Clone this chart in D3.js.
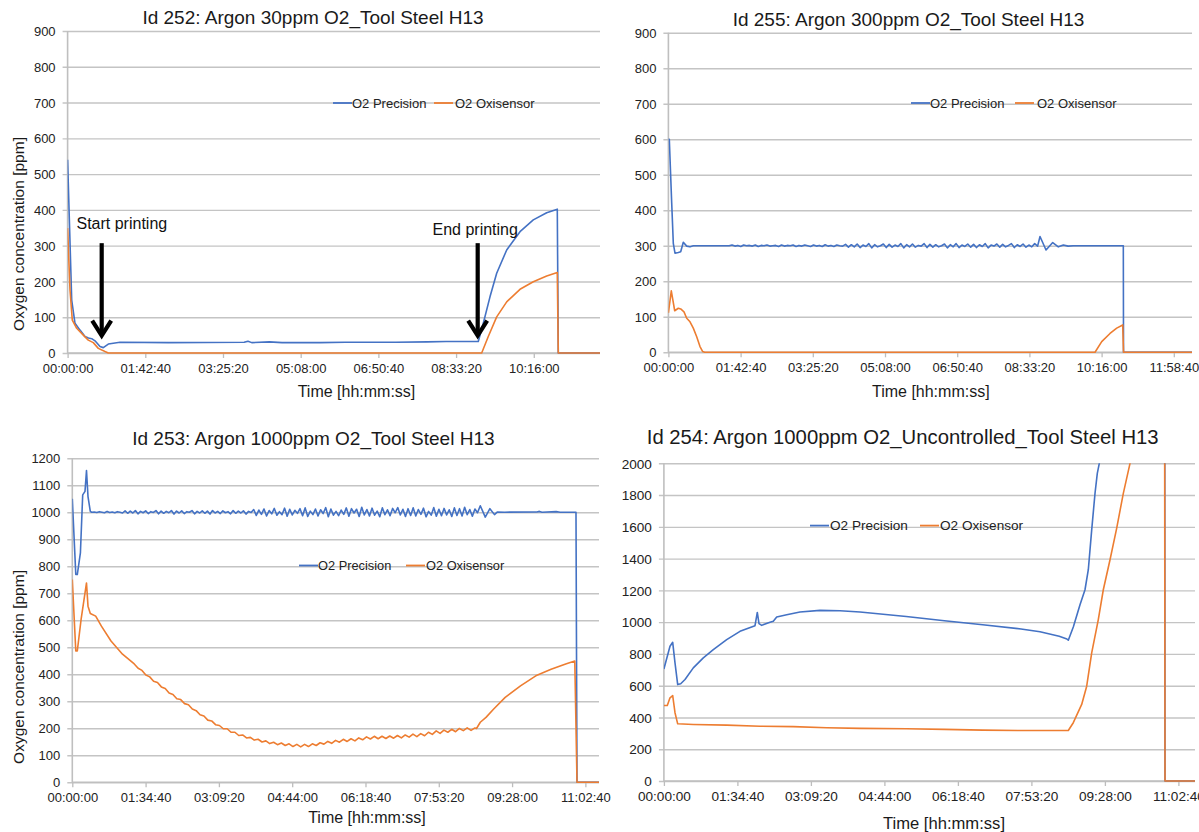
<!DOCTYPE html>
<html>
<head>
<meta charset="utf-8">
<script src="https://cdn.jsdelivr.net/npm/d3@7"></script>
<style>
  body { margin: 0; background: #fff; }
  svg { display: block; font-family: "Liberation Sans", Arial, sans-serif; }
</style>
</head>
<body>
<svg id="chart" width="1199" height="832"></svg>
<script>
const seriesNames = ['O2 Precision', 'O2 Oxisensor'];
const yTitle = 'Oxygen concentration [ppm]';
const xTitle = 'Time [hh:mm:ss]';

// ---- Id 252 ----
const p252Title = 'Id 252: Argon 30ppm O2_Tool Steel H13';
const p252XTicks = ['00:00:00', '01:42:40', '03:25:20', '05:08:00', '06:50:40', '08:33:20', '10:16:00'];
const p252YTicks = [0, 100, 200, 300, 400, 500, 600, 700, 800, 900];
const p252Precision = [[0, 540], [325, 148], [587, 83], [983, 64], [1379, 46], [1650, 42], [1911, 40], [2172, 34],
  [2569, 18], [2830, 15], [3227, 25], [4154, 30], [8000, 29], [14000, 30], [14300, 33], [14600, 29], [16000, 31],
  [17000, 29], [20000, 29], [22000, 30], [26000, 30], [28500, 31], [30000, 32], [32560, 32], [32957, 83],
  [33488, 157], [34019, 223], [34812, 288], [35867, 339], [36921, 372], [37983, 392], [38824, 402], [38903, 0], [42210, 0]];
const p252Oxisensor = [[0, 349], [190, 176], [373, 92], [721, 69], [1245, 50], [1641, 36], [2037, 29], [2434, 13],
  [2965, 4], [3227, 0], [32830, 0], [33353, 46], [34019, 101], [34812, 143], [35867, 178], [36921, 199],
  [37983, 215], [38824, 225], [38903, 0], [42210, 0]];
const p252Notes = [
  { label: 'Start printing', t: 2703, top: 307, tip: 46, textT: 705, textV: 346 },
  { label: 'End printing', t: 32513, top: 307, tip: 46, textT: 28930, textV: 330 }
];

// ---- Id 255 ----
const p255Title = 'Id 255: Argon 300ppm O2_Tool Steel H13';
const p255XTicks = ['00:00:00', '01:42:40', '03:25:20', '05:08:00', '06:50:40', '08:33:20', '10:16:00', '11:58:40'];
const p255YTicks = [0, 100, 200, 300, 400, 500, 600, 700, 800, 900];
const p255PrecisionHead = [[0, 600], [77, 600], [282, 420], [418, 307], [563, 279], [845, 281], [1049, 283],
  [1271, 310], [1561, 299], [1843, 297], [2124, 300]];
const p255PrecisionRippleSpan = [2200, 31500];
const p255PrecisionRipple = [300, 300, 300, 300, 300, 300, 300, 300, 300, 300, 300, 300, 300,
  302, 299, 301, 298, 302, 300, 301, 299, 302, 298, 301, 300, 302, 299, 300, 301, 298, 302, 299, 301,
  300, 302, 298, 301, 299, 302, 300, 298, 302, 299, 301, 298, 303, 299, 301, 298, 302, 300, 299,
  304, 296, 303, 297, 305, 295, 302, 298, 306, 294, 303, 297, 300, 305, 295, 304, 296, 302, 298, 306,
  294, 303, 297, 305, 296, 301, 299, 306, 295, 304, 296, 303, 297, 300, 305, 294, 303, 297, 306, 295,
  302, 298, 305, 296, 304, 295, 303, 298, 306, 294, 302, 299, 305, 296, 304, 297, 301, 306, 295, 303,
  298, 305, 296, 302, 297, 306, 299];
const p255PrecisionTail = [[31705, 326], [32217, 288], [32789, 309], [33267, 297], [33700, 302], [34100, 299],
  [34546, 300], [38812, 300], [38830, 0], [44672, 0]];
const p255Oxisensor = [[0, 111], [247, 173], [538, 117], [845, 124], [1049, 122], [1331, 114], [1561, 96],
  [1843, 86], [2124, 68], [2415, 44], [2696, 16], [2927, 2], [3100, 0], [36398, 0], [36968, 30], [37677, 53],
  [38249, 68], [38761, 77], [38830, 0], [44672, 0]];

// ---- Id 253 ----
const p253Title = 'Id 253: Argon 1000ppm O2_Tool Steel H13';
const p253XTicks = ['00:00:00', '01:34:40', '03:09:20', '04:44:00', '06:18:40', '07:53:20', '09:28:00', '11:02:40'];
const p253YTicks = [0, 100, 200, 300, 400, 500, 600, 700, 800, 900, 1000, 1100, 1200];
const p253PrecisionHead = [[0, 1050], [271, 769], [387, 769], [628, 849], [806, 1064], [984, 1077], [1100, 1154],
  [1217, 1058], [1395, 1003]];
const p253PrecisionRippleSpan = [1500, 31400];
const p253PrecisionRipple = [1000, 1001, 999, 1002, 1000, 998, 1003, 999, 1001, 998, 1002, 1000, 997,
  1005, 996, 1004, 997, 1006, 994, 1003, 998, 1005, 995, 1002, 999, 1006, 994, 1004, 996, 1003, 998, 1006, 993,
  1004, 997, 1005, 995, 1002, 1000, 1006, 994, 1003, 997, 1005, 996, 1004, 993, 1006, 997, 1003, 995, 1005, 998,
  1002, 994, 1006, 996, 1004, 997, 1005, 993, 1003, 999,
  1010, 988, 1008, 992, 1012, 986, 1006, 994, 1014, 989, 1002, 991, 1015, 985, 1011, 990, 1007, 996, 1013, 987,
  1016, 984, 1004, 991, 1012, 986, 1009, 995, 1017, 983, 1012, 989, 1003, 987, 1008, 992, 1016, 985, 1013, 997,
  1011, 984, 1018, 990, 1010, 986, 1015, 989, 1004, 983, 1016, 991, 1009, 987, 1014, 998, 1017, 990, 1011, 984,
  1013, 988, 1016, 986, 1010, 992, 1015, 983, 1003, 989, 1017, 985, 1011, 987, 1014, 990, 1009, 984, 1016, 988,
  1013, 986, 1018, 991, 1010, 985, 1012, 998];
const p253PrecisionTail = [[31616, 1024], [32003, 982], [32360, 1013], [32716, 991], [32949, 1001], [33500, 1000],
  [36000, 1001], [36200, 1003], [36400, 1000], [37500, 1002], [37800, 1000], [39032, 1000], [39110, 0], [40815, 0]];
const p253OxisensorHead = [[0, 751], [271, 486], [387, 486], [682, 603], [1100, 738], [1217, 652], [1395, 625],
  [1813, 615], [2255, 578], [2999, 523], [3890, 474]];
const p253OxisensorNoiseSpan = [4800, 31200];
const p253OxisensorNoise = [438, 422, 414, 397, 390, 374, 369, 353, 347, 330, 325, 309, 306, 291, 287, 271, 265,
  250, 245, 230, 227, 213, 210, 198, 198, 185, 185, 173, 175, 164, 166, 156, 159, 149, 153, 143, 148, 139, 145,
  136, 142, 132, 140, 131, 140, 132, 142, 136, 146, 141, 151, 144, 155, 148, 159, 151, 161, 153, 164, 157, 168,
  160, 170, 161, 170, 162, 171, 163, 173, 164, 175, 167, 178, 169, 180, 172, 185, 177, 190, 181, 193, 185, 196,
  187, 199, 191, 201, 192, 201];
const p253OxisensorTail = [[31322, 199], [31616, 222], [32058, 240], [32655, 271], [33546, 314], [34731, 357],
  [35917, 394], [37103, 418], [38288, 439], [38939, 449], [39110, 0], [40815, 0]];

// ---- Id 254 ----
const p254Title = 'Id 254: Argon 1000ppm O2_Uncontrolled_Tool Steel H13';
const p254XTicks = ['00:00:00', '01:34:40', '03:09:20', '04:44:00', '06:18:40', '07:53:20', '09:28:00', '11:02:40'];
const p254YTicks = [0, 200, 400, 600, 800, 1000, 1200, 1400, 1600, 1800, 2000];
const p254Precision = [[0, 705], [471, 848], [680, 873], [858, 744], [1066, 607], [1298, 612], [1631, 639],
  [2272, 712], [3045, 775], [3818, 827], [4853, 890], [5881, 942], [7040, 978], [7218, 1061], [7349, 991],
  [7558, 980], [8199, 999], [8454, 1005], [8717, 1033], [9490, 1047], [10518, 1064], [12064, 1074], [13609, 1072],
  [15155, 1064], [18725, 1036], [21677, 1009], [24637, 984], [27597, 957], [29065, 940], [30549, 911],
  [31144, 894], [31252, 886], [31638, 969], [32156, 1110], [32542, 1204], [32798, 1330], [33060, 1581],
  [33316, 1811], [33493, 1937], [33648, 2000], [33857, 2150], [34476, 2600], [38686, 4500], [38725, 0], [41043, 0]];
const p254Oxisensor = [[0, 475], [263, 475], [471, 524], [680, 538], [858, 430], [1066, 360], [2272, 356],
  [4853, 352], [7427, 345], [10000, 342], [12581, 335], [15155, 331], [18725, 329], [21677, 325], [24637, 320],
  [27597, 318], [31252, 318], [31638, 367], [32287, 482], [32673, 597], [33060, 807], [33570, 1016],
  [33957, 1204], [34476, 1393], [34993, 1592], [35503, 1811], [36021, 2000], [36793, 2400], [38686, 3100],
  [38725, 0], [41043, 0]];

const toSec = s => s.split(':').reduce((a, b) => a * 60 + (+b), 0);

function withRipple(head, span, values, tail) {
  const step = (span[1] - span[0]) / (values.length - 1);
  return head.concat(values.map((v, i) => [span[0] + i * step, v]), tail);
}

const colors = ['#4472C4', '#ED7D31'];
const svg = d3.select('#chart');

const panels = [
  {
    id: 'p252', title: p252Title, xTicks: p252XTicks, yTicks: p252YTicks,
    series: [p252Precision, p252Oxisensor], notes: p252Notes,
    left: 67.6, right: 600, top: 31, bottom: 353, xMax: 42210, yMax: 900,
    titlePos: [313, 23.5], titleSize: 19, tickSize: 13, axisSize: 16,
    xTitlePos: [356.5, 397], yTitlePos: [24, 234],
    legend: [333, 103, 19, 101, 122], legendSize: 13
  },
  {
    id: 'p255', title: p255Title, xTicks: p255XTicks, yTicks: p255YTicks,
    series: [withRipple(p255PrecisionHead, p255PrecisionRippleSpan, p255PrecisionRipple, p255PrecisionTail), p255Oxisensor],
    left: 668.4, right: 1192, top: 32.7, bottom: 352.3, xMax: 44672, yMax: 900,
    titlePos: [908.5, 25.7], titleSize: 19, tickSize: 13, axisSize: 16,
    xTitlePos: [930.8, 397],
    legend: [911, 103, 19, 104, 126], legendSize: 13
  },
  {
    id: 'p253', title: p253Title, xTicks: p253XTicks, yTicks: p253YTicks,
    series: [withRipple(p253PrecisionHead, p253PrecisionRippleSpan, p253PrecisionRipple, p253PrecisionTail),
      withRipple(p253OxisensorHead, p253OxisensorNoiseSpan, p253OxisensorNoise, p253OxisensorTail)],
    left: 72.3, right: 599, top: 458.2, bottom: 782.2, xMax: 40815, yMax: 1200,
    titlePos: [313.4, 445], titleSize: 19, tickSize: 13, axisSize: 16,
    xTitlePos: [367, 823], yTitlePos: [24, 667],
    legend: [299, 565.5, 19, 107, 127], legendSize: 12.8
  },
  {
    id: 'p254', title: p254Title, xTicks: p254XTicks, yTicks: p254YTicks,
    series: [p254Precision, p254Oxisensor],
    left: 663.9, right: 1195, top: 463.3, bottom: 781, xMax: 41043, yMax: 2000,
    titlePos: [902.7, 444], titleSize: 20.3, tickSize: 13.6, axisSize: 16.6,
    xTitlePos: [944, 829],
    legend: [810, 525.6, 20, 110, 130], legendSize: 13.6
  }
];

panels.forEach(drawPanel);

function drawPanel(cfg) {
  const g = svg.append('g').attr('class', cfg.id);

  const x = d3.scaleLinear().domain([0, cfg.xMax]).range([cfg.left, cfg.right]);
  const y = d3.scaleLinear().domain([0, cfg.yMax]).range([cfg.bottom, cfg.top]);

  // gridlines and y labels
  g.append('g')
    .attr('transform', 'translate(' + (cfg.left - 5) + ',0)')
    .call(d3.axisLeft(y).tickValues(cfg.yTicks).tickFormat(d3.format('d'))
      .tickSize(-(cfg.right - cfg.left + 5)).tickPadding(7))
    .call(a => a.attr('font-size', null).attr('font-family', null))
    .call(a => a.select('.domain').remove())
    .call(a => a.selectAll('line').attr('stroke', '#c4c4c4').attr('stroke-width', 1.4))
    .call(a => a.selectAll('text').attr('fill', '#222').attr('dy', '0.35em')
      .style('font-size', cfg.tickSize + 'px'));

  // x axis ticks and labels
  const xt = cfg.xTicks.map(toSec);
  g.append('g')
    .attr('transform', 'translate(0,' + cfg.bottom + ')')
    .call(d3.axisBottom(x).tickValues(xt).tickFormat((d, i) => cfg.xTicks[i]).tickSizeInner(5).tickSizeOuter(0))
    .call(a => a.attr('font-size', null).attr('font-family', null))
    .call(a => a.select('.domain').remove())
    .call(a => a.selectAll('line').attr('stroke', '#bdbdbd').attr('stroke-width', 1.3))
    .call(a => a.selectAll('text').attr('fill', '#222').attr('y', 20).attr('dy', 0)
      .style('font-size', cfg.tickSize + 'px'));

  // axis lines
  g.append('line')
    .attr('x1', cfg.left).attr('x2', cfg.right)
    .attr('y1', cfg.bottom).attr('y2', cfg.bottom)
    .attr('stroke', '#bfbfbf').attr('stroke-width', 1.4);
  g.append('line')
    .attr('x1', cfg.left).attr('x2', cfg.left)
    .attr('y1', cfg.top).attr('y2', cfg.bottom)
    .attr('stroke', '#bfbfbf').attr('stroke-width', 1.6);

  // clip for data lines
  svg.append('defs').append('clipPath').attr('id', 'clip-' + cfg.id)
    .append('rect')
    .attr('x', cfg.left).attr('y', cfg.top)
    .attr('width', cfg.right - cfg.left).attr('height', cfg.bottom - cfg.top + 2);

  const line = d3.line().x(d => x(d[0])).y(d => y(d[1]));

  g.append('g').attr('clip-path', 'url(#clip-' + cfg.id + ')')
    .selectAll('path')
    .data(cfg.series)
    .enter().append('path')
    .attr('d', d => line(d))
    .attr('fill', 'none')
    .attr('stroke', (d, i) => colors[i])
    .attr('stroke-width', 1.6)
    .attr('stroke-linejoin', 'round');

  // legend
  const lg = g.append('g').attr('transform', 'translate(' + cfg.legend[0] + ',' + cfg.legend[1] + ')');
  const offsets = [[0, cfg.legend[2]], [cfg.legend[3], cfg.legend[4]]];
  seriesNames.forEach((name, i) => {
    lg.append('line')
      .attr('x1', offsets[i][0]).attr('x2', offsets[i][0] + 19)
      .attr('y1', 0).attr('y2', 0)
      .attr('stroke', colors[i]).attr('stroke-width', 1.8);
    lg.append('text')
      .attr('x', offsets[i][1]).attr('y', 0).attr('dy', '0.35em')
      .style('font-size', cfg.legendSize + 'px')
      .attr('fill', '#222')
      .text(name);
  });

  // titles
  g.append('text')
    .attr('x', cfg.titlePos[0]).attr('y', cfg.titlePos[1])
    .attr('text-anchor', 'middle')
    .style('font-size', cfg.titleSize + 'px')
    .attr('fill', '#1a1a1a')
    .text(cfg.title);

  g.append('text')
    .attr('x', cfg.xTitlePos[0]).attr('y', cfg.xTitlePos[1])
    .attr('text-anchor', 'middle')
    .style('font-size', cfg.axisSize + 'px')
    .attr('fill', '#1a1a1a')
    .text(xTitle);

  if (cfg.yTitlePos) {
    g.append('text')
      .attr('transform', 'translate(' + cfg.yTitlePos[0] + ',' + cfg.yTitlePos[1] + ') rotate(-90)')
      .attr('text-anchor', 'middle')
      .style('font-size', '15.5px')
      .attr('fill', '#1a1a1a')
      .text(yTitle);
  }

  // annotation arrows
  (cfg.notes || []).forEach(n => {
    const ax = x(n.t);
    g.append('line')
      .attr('x1', ax).attr('x2', ax)
      .attr('y1', y(n.top)).attr('y2', y(n.tip) - 2)
      .attr('stroke', '#000').attr('stroke-width', 4.2);
    g.append('path')
      .attr('d', 'M' + (ax - 9.5) + ',' + (y(n.tip) - 16) + 'L' + ax + ',' + (y(n.tip) - 1) + 'L' + (ax + 9.5) + ',' + (y(n.tip) - 16))
      .attr('fill', 'none').attr('stroke', '#000').attr('stroke-width', 4.2);
    g.append('text')
      .attr('x', x(n.textT)).attr('y', y(n.textV))
      .style('font-size', '16px')
      .attr('fill', '#111')
      .text(n.label);
  });
}
</script>
</body>
</html>
